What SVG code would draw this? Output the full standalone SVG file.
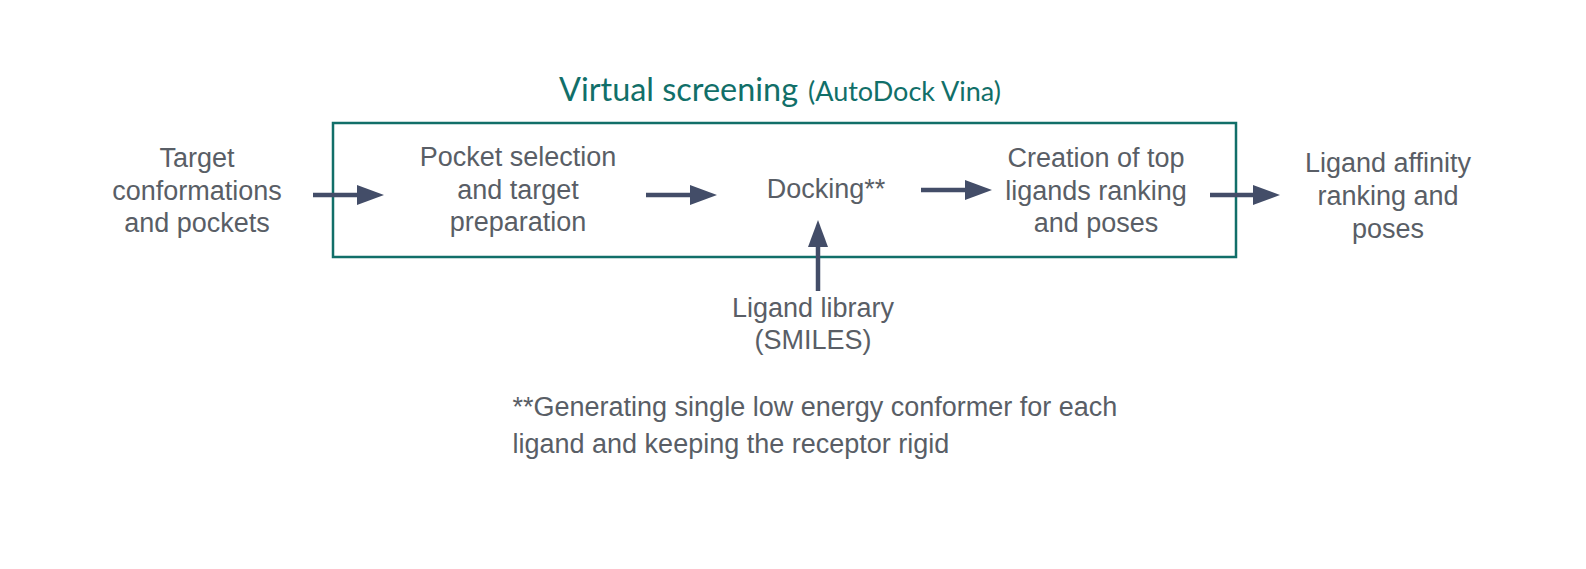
<svg xmlns="http://www.w3.org/2000/svg" width="1586" height="569" viewBox="0 0 1586 569">
<style>
.t{font-family:"Liberation Sans",Arial,sans-serif;font-size:27px;fill:#595e66;text-anchor:middle}
.f{font-family:"Liberation Sans",Arial,sans-serif;font-size:27px;fill:#595e66}
.c{stroke:#434d68;stroke-width:4.5;fill:none}
.h{fill:#434d68}
</style>
<rect width="1586" height="569" fill="#ffffff"/>
<g id="title" font-family="Lato, 'Open Sans', sans-serif" fill="#116f69">
<text x="559" y="101" font-size="33" textLength="239" lengthAdjust="spacingAndGlyphs">Virtual screening</text>
<text x="808" y="101" font-size="26" textLength="193" lengthAdjust="spacingAndGlyphs">(AutoDock Vina)</text>
</g>
<g id="box"><rect x="333" y="123" width="903" height="134" fill="none" stroke="#116f69" stroke-width="2.5"/></g>
<g id="n1"><text class="t"><tspan x="197" y="167">Target</tspan><tspan x="197" y="199.5">conformations</tspan><tspan x="197" y="232">and pockets</tspan></text></g>
<g id="n2"><text class="t"><tspan x="518" y="166">Pocket selection</tspan><tspan x="518" y="198.5">and target</tspan><tspan x="518" y="231">preparation</tspan></text></g>
<g id="n3"><text class="t" x="826" y="198">Docking**</text></g>
<g id="n4"><text class="t"><tspan x="1096" y="167">Creation of top</tspan><tspan x="1096" y="199.5">ligands ranking</tspan><tspan x="1096" y="232">and poses</tspan></text></g>
<g id="n5"><text class="t"><tspan x="1388" y="172">Ligand affinity</tspan><tspan x="1388" y="205">ranking and</tspan><tspan x="1388" y="238">poses</tspan></text></g>
<g id="n6"><text class="t"><tspan x="813" y="316.5">Ligand library</tspan><tspan x="813" y="349">(SMILES)</tspan></text></g>
<g id="note"><text class="f"><tspan x="512.5" y="415.5">**Generating single low energy conformer for each</tspan><tspan x="512.5" y="453">ligand and keeping the receptor rigid</tspan></text></g>
<g id="connectors">
<line class="c" x1="313" y1="195" x2="359" y2="195"/><polygon class="h" points="384,195 357,185 357,205"/>
<line class="c" x1="646" y1="195" x2="692" y2="195"/><polygon class="h" points="717,195 690,185 690,205"/>
<line class="c" x1="921" y1="190" x2="967" y2="190"/><polygon class="h" points="992,190 965,180 965,200"/>
<line class="c" x1="1210" y1="195" x2="1255" y2="195"/><polygon class="h" points="1280,195 1253,185 1253,205"/>
<line class="c" x1="818" y1="291" x2="818" y2="245"/><polygon class="h" points="818,220 808,247 828,247"/>
</g>
</svg>
